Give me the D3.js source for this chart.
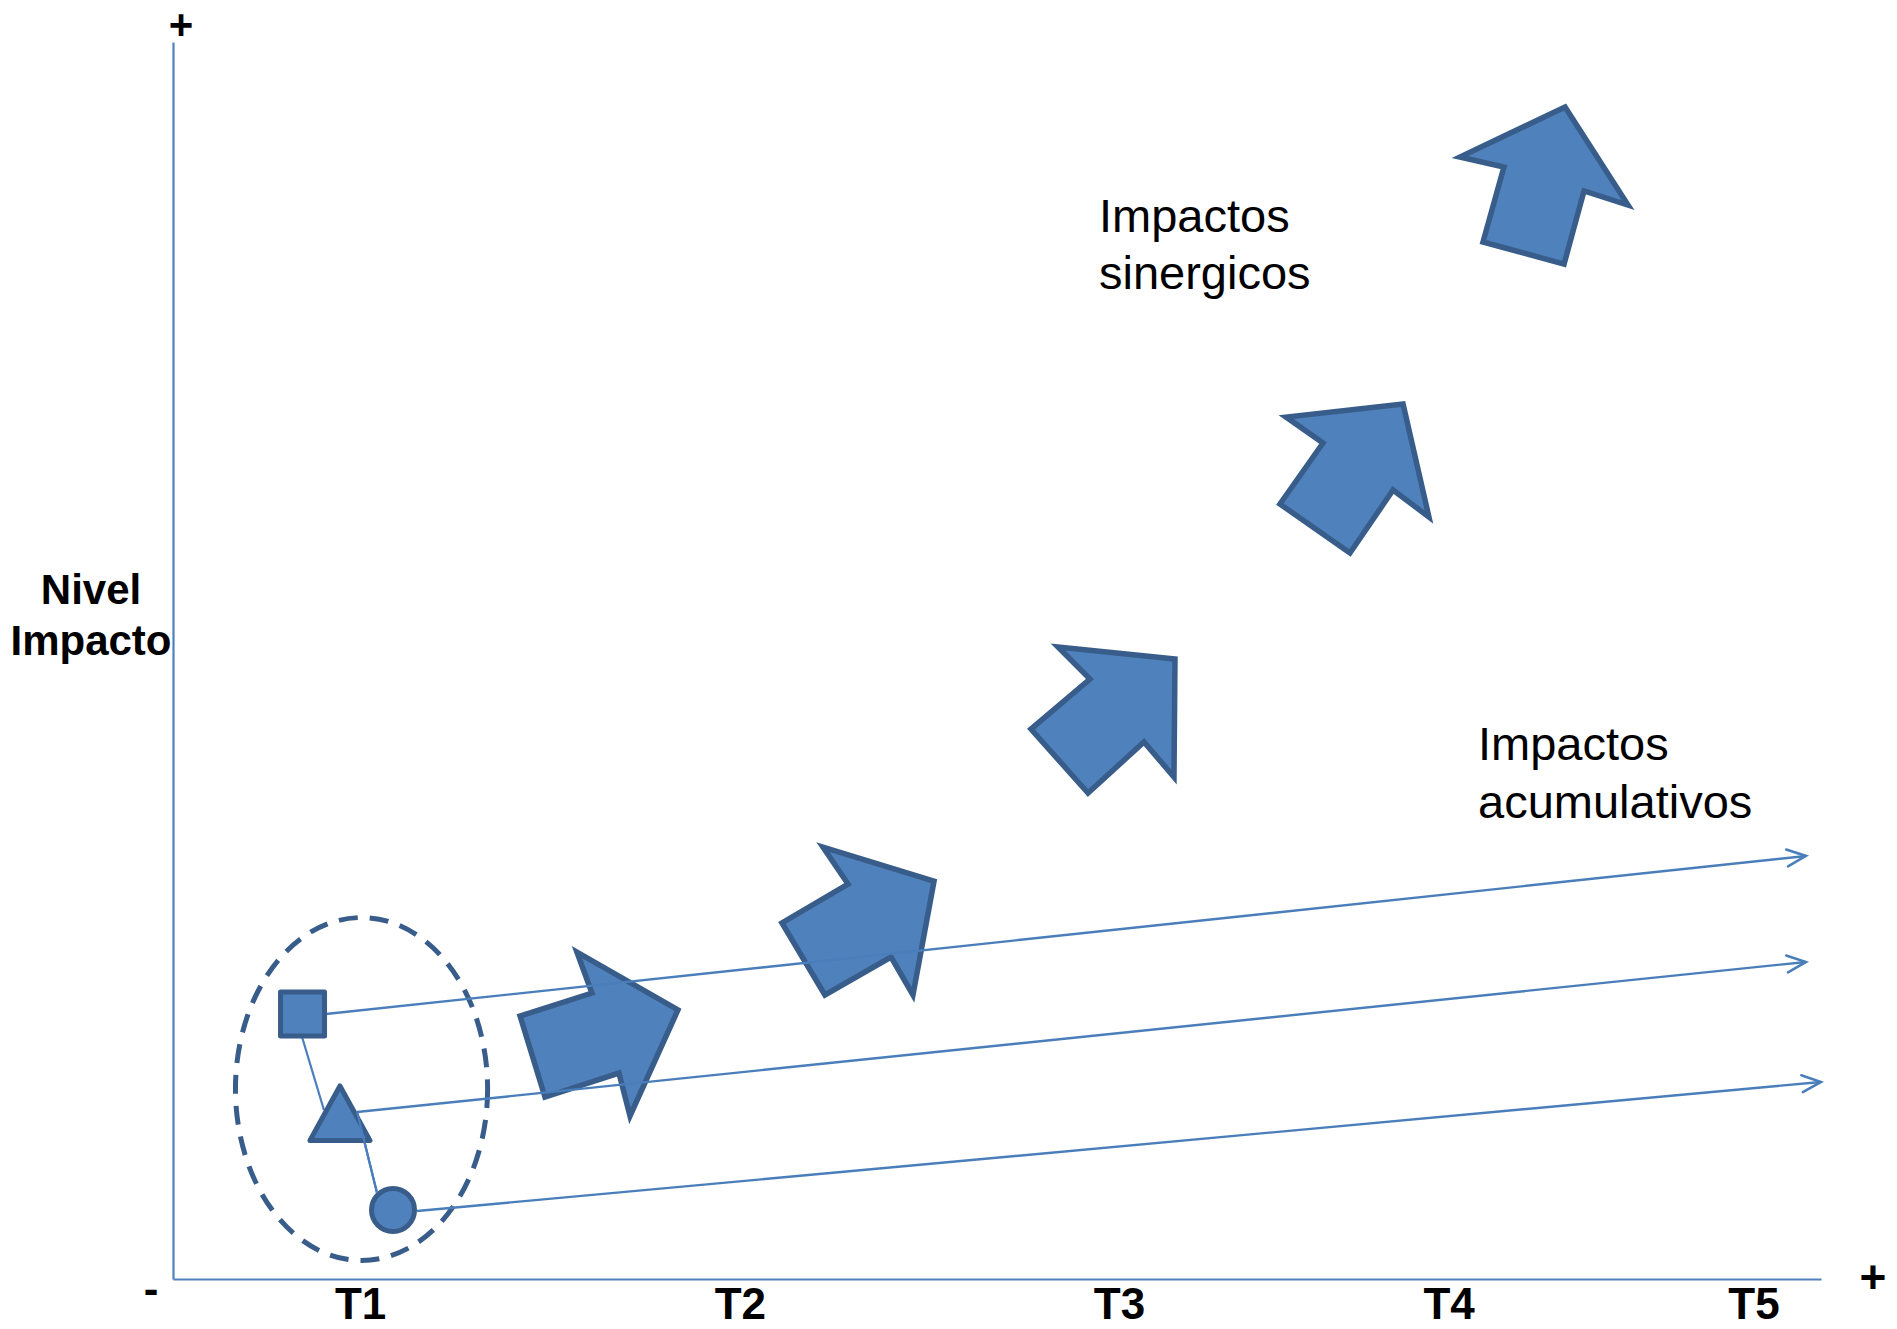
<!DOCTYPE html>
<html>
<head>
<meta charset="utf-8">
<script src="https://cdn.jsdelivr.net/npm/d3@7"></script>
<style>
  html, body { margin: 0; padding: 0; background: #fff; }
  svg { display: block; }
  text { font-family: "Liberation Sans", Arial, sans-serif; }
</style>
</head>
<body>
<div id="chart"></div>
<script>
// ---- data (diagram units: time 0..100, impact level 0..100) ----
const tickValues = [11.35, 34.4, 57.4, 77.4, 95.9];
const tickLabels = ["T1", "T2", "T3", "T4", "T5"];

// individual impacts at T1
const impactShapes = ["square", "triangle", "circle"];
const impactX = [7.86, 10.13, 13.35];
const impactY = [21.42, 13.34, 5.58];

// grouping ellipse around T1 impacts
const groupCenter = [11.44, 15.36];
const groupRadius = [7.65, 13.86];

// connectors between the individual impacts
const connectors = [
  [[7.83, 19.56], [9.16, 13.66]],
  [[11.17, 13.50], [12.38, 6.95]]
];

// cumulative impact trajectories (start, end)
const cumulativeLines = [
  [[9.28, 21.42], [99.09, 34.20]],
  [[11.17, 13.50], [99.09, 25.63]],
  [[14.81, 5.50], [100.0, 15.93]]
];

// synergic impact block arrows (7 vertices each)
const synergicArrows = [
  [[22.57,14.71],[21.06,21.26],[25.42,23.12],[24.51,26.43],[30.64,21.75],[27.73,13.18],[27.06,16.65]],
  [[39.56,22.96],[36.95,28.78],[40.96,31.93],[39.44,34.92],[46.18,32.17],[44.90,22.96],[43.57,26.03]],
  [[55.52,39.29],[52.06,44.46],[55.64,48.50],[53.70,51.09],[60.80,50.12],[60.74,40.58],[58.92,43.41]],
  [[71.42,58.69],[67.17,62.65],[69.78,67.58],[67.54,69.68],[74.64,70.74],[76.21,61.60],[74.03,63.78]],
  [[84.41,82.05],[79.49,83.83],[80.76,89.89],[78.09,90.70],[84.47,94.74],[88.29,86.82],[85.62,87.96]]
];

const labelSinergicos = ["Impactos", "sinergicos"];
const labelAcumulativos = ["Impactos", "acumulativos"];
const labelY = ["Nivel", "Impacto"];

// ---- drawing ----
const W = 1897, H = 1329;
const FILL = "#4F81BD", DARK = "#385D8A", LINE = "#4A7EBB";

const svg = d3.select("#chart").append("svg").attr("width", W).attr("height", H);

const x = d3.scaleLinear().domain([0, 100]).range([173, 1821]);
const y = d3.scaleLinear().domain([0, 100]).range([1279, 42]);

// marker for open arrowheads
svg.append("defs").append("marker")
  .attr("id", "open")
  .attr("markerUnits", "userSpaceOnUse")
  .attr("viewBox", "-22 -12 26 24")
  .attr("refX", 0).attr("refY", 0)
  .attr("markerWidth", 26).attr("markerHeight", 24)
  .attr("orient", "auto")
  .append("path")
  .attr("d", "M-19,-8.5 L0,0 L-19,8.5")
  .attr("fill", "none").attr("stroke", LINE).attr("stroke-width", 2.5)
  .attr("stroke-linecap", "round");

// axes
const xAxis = svg.append("g").attr("transform", `translate(0,${y(0)})`)
  .call(d3.axisBottom(x).tickValues(tickValues)
        .tickFormat((d, i) => tickLabels[i]).tickSize(0).tickSizeOuter(0).tickPadding(9));
xAxis.select(".domain").attr("stroke", FILL).attr("stroke-width", 2.2);
xAxis.selectAll("text").attr("font-size", 44).attr("font-weight", "bold")
  .attr("fill", "#000").attr("font-family", "Liberation Sans, Arial, sans-serif");

const yAxis = svg.append("g").attr("transform", `translate(${x(0)},0)`)
  .call(d3.axisLeft(y).tickValues([]).tickSize(0).tickSizeOuter(0));
yAxis.select(".domain").attr("stroke", FILL).attr("stroke-width", 2.2);

// axis end signs
svg.append("text").attr("x", x(0) + 8).attr("y", 39).attr("text-anchor", "middle")
  .attr("font-size", 42).attr("font-weight", "bold").text("+");
svg.append("text").attr("x", 1873).attr("y", 1293).attr("text-anchor", "middle")
  .attr("font-size", 46).attr("font-weight", "bold").text("+");
svg.append("text").attr("x", 151).attr("y", 1304).attr("text-anchor", "middle")
  .attr("font-size", 44).attr("font-weight", "bold").text("-");

// y axis title
svg.append("text").attr("text-anchor", "middle").attr("font-size", 42).attr("font-weight", "bold")
  .selectAll("tspan").data(labelY).join("tspan")
  .attr("x", 91).attr("y", (d, i) => 604 + i * 51).text(d => d);

// synergic block arrows
svg.append("g").selectAll("path").data(synergicArrows).join("path")
  .attr("d", d => d3.line().x(p => x(p[0])).y(p => y(p[1])).curve(d3.curveLinearClosed)(d))
  .attr("fill", FILL).attr("stroke", DARK).attr("stroke-width", 5.5)
  .attr("stroke-linejoin", "miter");

// group ellipse
svg.append("ellipse")
  .attr("cx", x(groupCenter[0])).attr("cy", y(groupCenter[1]))
  .attr("rx", x(groupCenter[0] + groupRadius[0]) - x(groupCenter[0]))
  .attr("ry", y(groupCenter[1]) - y(groupCenter[1] + groupRadius[1]))
  .attr("fill", "none").attr("stroke", DARK).attr("stroke-width", 5)
  .attr("stroke-dasharray", "19 12");

// connectors
svg.append("g").selectAll("line").data(connectors).join("line")
  .attr("x1", d => x(d[0][0])).attr("y1", d => y(d[0][1]))
  .attr("x2", d => x(d[1][0])).attr("y2", d => y(d[1][1]))
  .attr("stroke", LINE).attr("stroke-width", 2.2);

// cumulative lines
svg.append("g").selectAll("line").data(cumulativeLines).join("line")
  .attr("x1", d => x(d[0][0])).attr("y1", d => y(d[0][1]))
  .attr("x2", d => x(d[1][0])).attr("y2", d => y(d[1][1]))
  .attr("stroke", LINE).attr("stroke-width", 2.4)
  .attr("marker-end", "url(#open)");

// impact shapes
const shapeG = svg.append("g");
impactShapes.forEach((s, i) => {
  const cx = x(impactX[i]), cy = y(impactY[i]);
  let el;
  if (s === "square") {
    el = shapeG.append("rect").attr("x", cx - 22).attr("y", cy - 22).attr("width", 44).attr("height", 44);
  } else if (s === "triangle") {
    el = shapeG.append("path").attr("d", `M${cx},${cy - 28} L${cx + 30},${cy + 26.5} L${cx - 30},${cy + 26.5} Z`);
  } else {
    el = shapeG.append("circle").attr("cx", cx).attr("cy", cy).attr("r", 21.5);
  }
  el.attr("fill", FILL).attr("stroke", DARK).attr("stroke-width", 5).attr("stroke-linejoin", "round");
});
// connector that passes over the triangle
svg.append("line")
  .attr("x1", x(connectors[1][0][0])).attr("y1", y(connectors[1][0][1]))
  .attr("x2", x(connectors[1][1][0])).attr("y2", y(connectors[1][1][1]))
  .attr("stroke", LINE).attr("stroke-width", 2.2);

// annotations
svg.append("text").attr("font-size", 47)
  .selectAll("tspan").data(labelSinergicos).join("tspan")
  .attr("x", 1099).attr("y", (d, i) => 232 + i * 57).text(d => d);
svg.append("text").attr("font-size", 47)
  .selectAll("tspan").data(labelAcumulativos).join("tspan")
  .attr("x", 1478).attr("y", (d, i) => 760 + i * 58).text(d => d);
</script>
</body>
</html>
